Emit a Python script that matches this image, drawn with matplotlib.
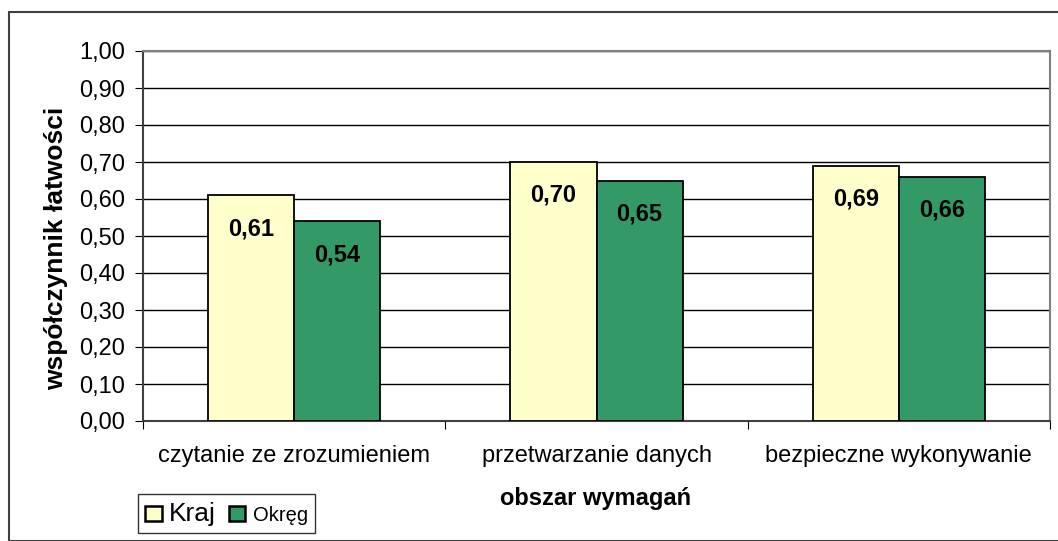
import numpy as np
import matplotlib.pyplot as plt
from matplotlib.patches import Rectangle

plt.rcParams['font.family'] = ['Liberation Sans', 'DejaVu Sans']

categories = ['czytanie ze zrozumieniem', 'przetwarzanie danych', 'bezpieczne wykonywanie']
kraj = [0.61, 0.70, 0.69]
okreg = [0.54, 0.65, 0.66]
series_names = ['Kraj', 'Okręg']
colors = ['#FFFFCC', '#339966']

W, H = 1058, 541
fig = plt.figure(figsize=(W / 100, H / 100), dpi=100)

# outer chart frame
fig.patches.append(Rectangle((9 / W, 0), 1.2, 1 - 12 / H, transform=fig.transFigure,
                             fill=False, edgecolor='#404040', linewidth=1.5))

left, right, top, bottom = 143, 1050, 51, 421
ax = fig.add_axes([left / W, 1 - bottom / H, (right - left) / W, (bottom - top) / H])

x = np.arange(len(categories))
bw = 0.285
b1 = ax.bar(x - bw / 2, kraj, bw, color=colors[0], edgecolor='black', linewidth=1.3, zorder=3)
b2 = ax.bar(x + bw / 2, okreg, bw, color=colors[1], edgecolor='black', linewidth=1.3, zorder=3)

for bars, vals in ((b1, kraj), (b2, okreg)):
    for r, v in zip(bars, vals):
        ax.annotate(f'{v:.2f}'.replace('.', ','), (r.get_x() + r.get_width() / 2, v),
                    xytext=(0, -24), textcoords='offset points', ha='center', va='center',
                    fontsize=17, fontweight='bold', zorder=4)

ax.set_xlim(-0.5, len(categories) - 0.5)
ax.set_ylim(0, 1.0)
yt = np.arange(0, 1.01, 0.1)
ax.set_yticks(yt)
ax.set_yticklabels([f'{v:.2f}'.replace('.', ',') for v in yt], fontsize=17)
ax.yaxis.grid(True, color='black', linewidth=1, zorder=0)
ax.set_axisbelow(True)

ax.set_xticks(np.arange(-0.5, len(categories), 1.0))
ax.set_xticklabels([])
ax.set_xticks(x, minor=True)
ax.set_xticklabels(categories, minor=True, fontsize=17)
ax.tick_params(axis='x', which='minor', length=0, pad=17)
ax.tick_params(axis='x', which='major', length=6, color='black')
ax.tick_params(axis='y', length=6, color='black', pad=7)

for s in ('top', 'right'):
    ax.spines[s].set_color('#808080')
    ax.spines[s].set_linewidth(1.5)
ax.spines['left'].set_color('#404040')
ax.spines['left'].set_linewidth(1.5)
ax.spines['bottom'].set_color('#404040')
ax.spines['bottom'].set_linewidth(1.5)

fig.text(56 / W, 1 - 248 / H, 'współczynnik łatwości', ha='center', va='center', rotation=90,
         fontsize=19, fontweight='bold')
fig.text(596 / W, 1 - 498 / H, 'obszar wymagań', ha='center', va='center',
         fontsize=17, fontweight='bold')

handles = [Rectangle((0, 0), 1, 1, facecolor=c, edgecolor='black', linewidth=1.8) for c in colors]
leg = fig.legend(handles, series_names, loc='lower left', bbox_to_anchor=(138 / W, 1 - 533 / H),
                 frameon=True, fancybox=False, edgecolor='black', fontsize=15,
                 handlelength=0.8, handleheight=0.8, handletextpad=0.35, columnspacing=0.6,
                 ncol=2, borderpad=0.35, borderaxespad=0)
leg.get_frame().set_linewidth(1)
texts = leg.get_texts()
texts[0].set_fontsize(19)
texts[1].set_fontsize(14.5)

fig.savefig('out.png', dpi=100)
